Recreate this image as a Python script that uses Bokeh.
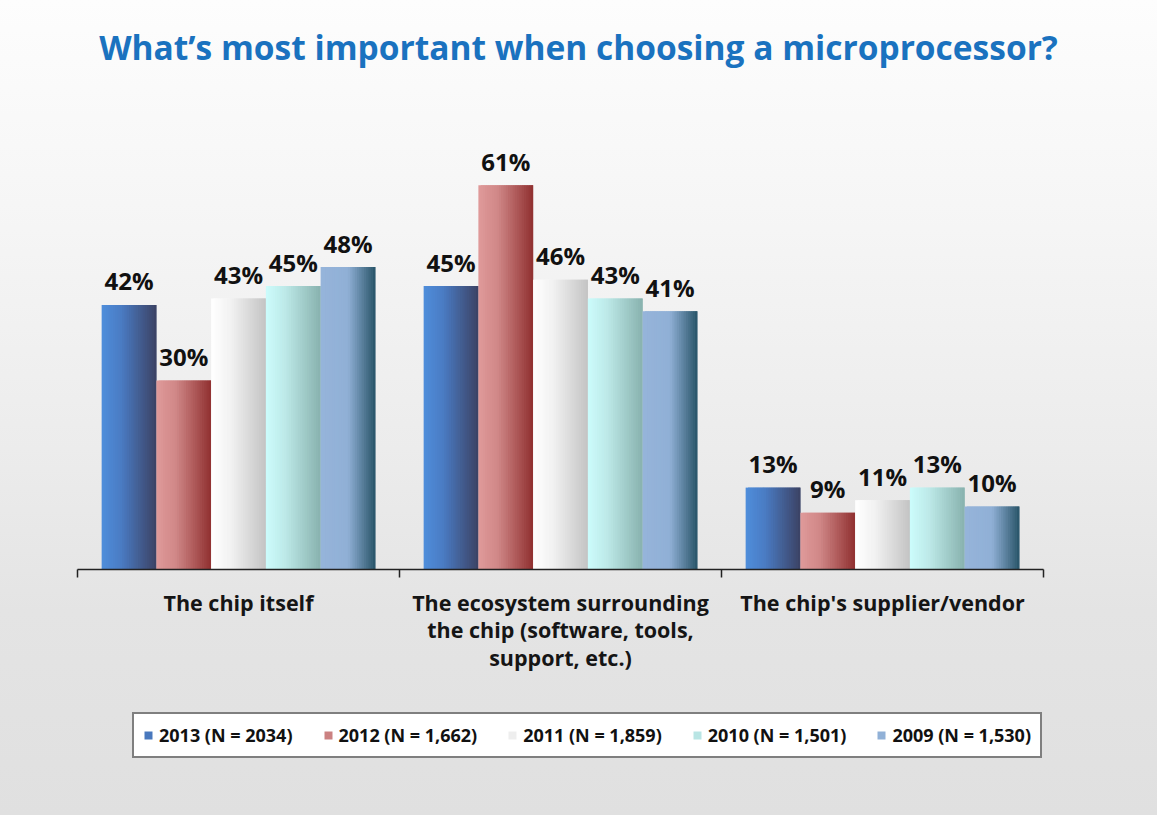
from bokeh.plotting import figure
from bokeh.models import (Range1d, FactorRange, LinearAxis, FixedTicker, Legend,
                          LegendItem, ColumnDataSource, Div)
from bokeh.layouts import column
from bokeh.transform import dodge
from bokeh.core.properties import value
from bokeh.embed import file_html
from bokeh.resources import INLINE

# ---------------- data ----------------
categories = ["chip", "ecosystem", "supplier"]
category_labels = [
    "The chip itself",
    "The ecosystem surrounding\nthe chip (software, tools,\nsupport, etc.)",
    "The chip's supplier/vendor",
]
series_names = ["2013 (N = 2034)", "2012 (N = 1,662)", "2011 (N = 1,859)",
                "2010 (N = 1,501)", "2009 (N = 1,530)"]
v2013 = [42, 45, 13]
v2012 = [30, 61, 9]
v2011 = [43, 46, 11]
v2010 = [45, 43, 13]
v2009 = [48, 41, 10]
series_values = [v2013, v2012, v2011, v2010, v2009]

title_text = "What\u2019s most important when choosing a microprocessor?"

# ---------------- styles ----------------
gradients = [
    [(0.0, "#4f8edb"), (0.35, "#4a7cc4"), (1.0, "#3c4264")],
    [(0.0, "#e09a9a"), (0.35, "#d08888"), (1.0, "#903030")],
    [(0.0, "#ffffff"), (0.35, "#f2f2f2"), (1.0, "#c4c4c4")],
    [(0.0, "#ccfcfc"), (0.35, "#bde9e8"), (1.0, "#88b2ae")],
    [(0.0, "#96b4da"), (0.5, "#90b0d6"), (1.0, "#285468")],
]


def hex2rgb(h):
    h = h.lstrip("#")
    return tuple(int(h[i:i + 2], 16) for i in (0, 2, 4))


def interp(stops, t):
    for (p0, c0), (p1, c1) in zip(stops[:-1], stops[1:]):
        if p0 <= t <= p1:
            f = (t - p0) / (p1 - p0) if p1 > p0 else 0
            a, b = hex2rgb(c0), hex2rgb(c1)
            return "#%02x%02x%02x" % tuple(round(a[i] + (b[i] - a[i]) * f) for i in range(3))
    return stops[-1][1]


W = 1157
TITLE_H, MAIN_H, LEG_H = 80, 620, 115
BAR_W = 0.17
N_STRIPS = 24
FONT = "Open Sans"

title_div = Div(
    text=f'<div style="padding-top:24px;width:{W}px;text-align:center;'
         f'font-family:\'Open Sans\';font-weight:bold;font-size:33.5px;color:#1a72bf;'
         f'white-space:nowrap;">{title_text}</div>',
    width=W, height=TITLE_H, margin=0)

p = figure(width=W, height=MAIN_H, x_range=FactorRange(factors=categories, range_padding=0),
           y_range=Range1d(0, 70), output_backend="svg", toolbar_location=None,
           x_axis_location=None, y_axis_location=None,
           min_border_left=77, min_border_right=114, min_border_top=48,
           min_border_bottom=131)
p.xgrid.visible = False
p.ygrid.visible = False
p.outline_line_color = None
p.background_fill_alpha = 0
p.border_fill_alpha = 0

data = {"cat": categories, "zero": [0] * len(categories)}
for j, vals in enumerate(series_values):
    data[f"s{j}"] = vals
    data[f"l{j}"] = [f"{v}%" for v in vals]
src = ColumnDataSource(data)

for j in range(len(series_values)):
    center = (j - (len(series_values) - 1) / 2) * BAR_W
    left_edge = center - BAR_W / 2
    step = BAR_W / N_STRIPS
    for k in range(N_STRIPS):
        t = (k + 0.5) / N_STRIPS
        l = left_edge + k * step
        r_ = min(l + 2 * step, left_edge + BAR_W)
        p.quad(left=dodge("cat", l, range=p.x_range), right=dodge("cat", r_, range=p.x_range),
               bottom="zero", top=f"s{j}", source=src,
               fill_color=interp(gradients[j], t), line_color=None)
    p.text(x=dodge("cat", center, range=p.x_range), y=f"s{j}", text=f"l{j}",
           source=src, text_align="center", text_baseline="alphabetic",
           y_offset=-24, text_font=value(FONT), text_font_style="bold",
           text_font_size="24px", text_color="#111111")

# axis: boundary ticks between categories (minor ticks), labels at category centres
n = len(categories)
ax = LinearAxis(ticker=FixedTicker(ticks=[i + 0.5 for i in range(n)],
                                   minor_ticks=[float(i) for i in range(n + 1)]),
                major_label_overrides={i + 0.5: category_labels[i] for i in range(n)})
ax.axis_line_color = "#222222"
ax.axis_line_width = 1.5
ax.major_tick_line_color = None
ax.major_tick_out = 0
ax.major_tick_in = 0
ax.minor_tick_line_color = "#222222"
ax.minor_tick_line_width = 1.5
ax.minor_tick_out = 8
ax.minor_tick_in = 0
ax.major_label_standoff = 10
ax.major_label_text_font = FONT
ax.major_label_text_font_style = "bold"
ax.major_label_text_font_size = "21.5px"
ax.major_label_text_color = "#151515"
ax.major_label_text_line_height = 0.95
p.add_layout(ax, "below")

# legend strip below the chart (its frame is aligned with the chart's frame)
p2 = figure(width=W, height=LEG_H, x_range=Range1d(0, 1), y_range=Range1d(0, 1),
            output_backend="svg", toolbar_location=None,
            x_axis_location=None, y_axis_location=None, min_border=0)
p2.xgrid.visible = False
p2.ygrid.visible = False
p2.outline_line_color = None
p2.background_fill_alpha = 0
p2.border_fill_alpha = 0
leg_renderers = []
for j in range(len(series_names)):
    # zero-size proxy glyph, only used for the legend key
    leg_renderers.append(p2.quad(left=[0], right=[0], bottom=[0], top=[0],
                                 fill_color=interp(gradients[j], 0.4), line_color=None))

legend = Legend(items=[LegendItem(label=series_names[j], renderers=[leg_renderers[j]])
                       for j in range(len(series_names))],
                orientation="horizontal", location=(55, 57))
legend.label_text_font = FONT
legend.label_text_font_style = "bold"
legend.label_text_font_size = "18px"
legend.label_text_color = "#111111"
legend.glyph_width = 10
legend.glyph_height = 10
legend.label_standoff = 6
legend.spacing = 30
legend.padding = 9
legend.margin = 0
legend.border_line_color = "#000000"
legend.border_line_width = 2
legend.background_fill_color = "#ffffff"
legend.background_fill_alpha = 1
p2.add_layout(legend, "center")

layout = column(title_div, p, p2, spacing=0)
layout.styles = {"background": "linear-gradient(to bottom, #fdfdfd 0%, #f6f6f6 25%, #ececec 55%, #e4e4e4 75%, #e0e0e0 100%)"}

open("out.html", "w").write(file_html(layout, INLINE))
